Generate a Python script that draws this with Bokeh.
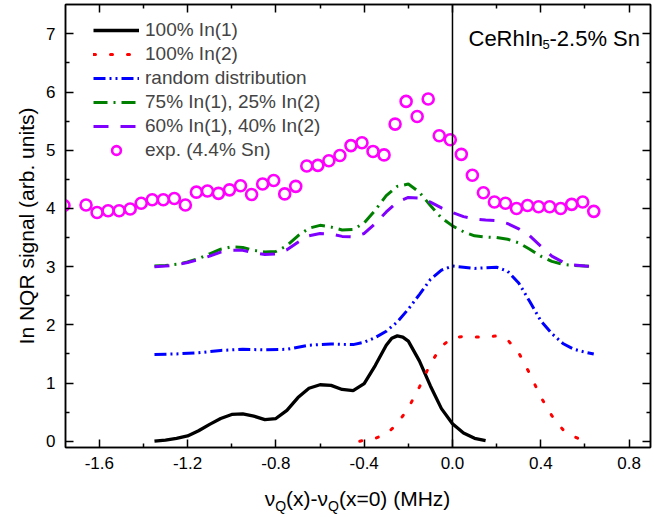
from bokeh.plotting import figure
from bokeh.layouts import column
from bokeh.models import (Range1d, FixedTicker, PrintfTickFormatter, LinearAxis, Span,
                          Label, Legend, LegendItem, Div)
from bokeh.embed import file_html
from bokeh.resources import INLINE

FONT = "Liberation Sans"

# ---- data ----
x_in1 = [-1.35, -1.30, -1.25, -1.20, -1.15, -1.10, -1.05, -1.00, -0.95, -0.90, -0.85,
         -0.80, -0.75, -0.70, -0.65, -0.60, -0.55, -0.50, -0.45, -0.40, -0.35, -0.30,
         -0.275, -0.25, -0.225, -0.20, -0.15, -0.10, -0.05, 0.00, 0.05, 0.10, 0.15]
y_in1 = [0.00, 0.02, 0.05, 0.09, 0.18, 0.29, 0.39, 0.46, 0.47, 0.43, 0.37,
         0.39, 0.53, 0.75, 0.91, 0.97, 0.96, 0.89, 0.87, 0.99, 1.30, 1.65,
         1.77, 1.81, 1.79, 1.72, 1.38, 0.95, 0.56, 0.30, 0.14, 0.05, 0.01]

x_in2 = [-0.42, -0.35, -0.30, -0.25, -0.20, -0.15, -0.10, -0.05, 0.00, 0.05, 0.10,
         0.15, 0.20, 0.25, 0.30, 0.35, 0.40, 0.45, 0.50, 0.55, 0.60]
y_in2 = [0.00, 0.05, 0.12, 0.30, 0.57, 0.93, 1.33, 1.63, 1.78, 1.80, 1.79,
         1.79, 1.81, 1.74, 1.52, 1.16, 0.76, 0.44, 0.20, 0.08, 0.00]

x_rand = [-1.35, -1.25, -1.15, -1.05, -0.95, -0.85, -0.75, -0.65, -0.55, -0.45, -0.40,
          -0.35, -0.30, -0.25, -0.20, -0.15, -0.10, -0.05, 0.00, 0.05, 0.10, 0.15,
          0.20, 0.25, 0.30, 0.35, 0.40, 0.45, 0.50, 0.55, 0.60, 0.64]
y_rand = [1.49, 1.50, 1.52, 1.56, 1.58, 1.57, 1.58, 1.65, 1.67, 1.66, 1.70,
          1.78, 1.89, 2.05, 2.27, 2.52, 2.78, 2.94, 3.01, 2.99, 2.97, 2.98,
          2.99, 2.92, 2.72, 2.40, 2.07, 1.85, 1.68, 1.58, 1.53, 1.50]

x_mix = [-1.35, -1.30, -1.25, -1.20, -1.15, -1.10, -1.05, -1.00, -0.95, -0.90, -0.85,
         -0.80, -0.75, -0.70, -0.65, -0.60, -0.55, -0.50, -0.45, -0.40, -0.35, -0.30,
         -0.25, -0.20, -0.15, -0.10, -0.05, 0.00, 0.05, 0.10, 0.15, 0.20, 0.25,
         0.30, 0.35, 0.40, 0.45, 0.50, 0.55, 0.60, 0.64]
y_75_25 = [3.01, 3.02, 3.04, 3.08, 3.14, 3.22, 3.30, 3.34, 3.33, 3.28, 3.25,
           3.26, 3.36, 3.53, 3.66, 3.71, 3.68, 3.63, 3.64, 3.75, 3.97, 4.22,
           4.38, 4.42, 4.28, 4.05, 3.84, 3.70, 3.60, 3.53, 3.51, 3.50, 3.47,
           3.41, 3.30, 3.18, 3.09, 3.04, 3.02, 3.01, 3.00]
y_60_40 = [3.00, 3.01, 3.03, 3.07, 3.12, 3.18, 3.25, 3.28, 3.28, 3.24, 3.21,
           3.22, 3.29, 3.42, 3.53, 3.57, 3.56, 3.52, 3.51, 3.57, 3.74, 3.94,
           4.11, 4.19, 4.18, 4.11, 4.01, 3.93, 3.86, 3.82, 3.80, 3.79, 3.74,
           3.65, 3.53, 3.35, 3.18, 3.08, 3.03, 3.01, 3.00]

x_exp = [-1.76, -1.66, -1.61, -1.56, -1.51, -1.46, -1.41, -1.36, -1.31, -1.26, -1.21,
         -1.16, -1.11, -1.06, -1.01, -0.96, -0.91, -0.86, -0.81, -0.76, -0.71, -0.66,
         -0.61, -0.56, -0.51, -0.46, -0.41, -0.36, -0.31, -0.26, -0.21, -0.16, -0.11,
         -0.06, -0.01, 0.04, 0.09, 0.14, 0.19, 0.24, 0.29, 0.34, 0.39, 0.44, 0.49,
         0.54, 0.59, 0.64]
y_exp = [4.05, 4.06, 3.93, 3.96, 3.96, 3.99, 4.09, 4.15, 4.15, 4.17, 4.06,
         4.28, 4.30, 4.26, 4.32, 4.39, 4.24, 4.42, 4.48, 4.25, 4.38, 4.73,
         4.74, 4.82, 4.91, 5.08, 5.13, 4.98, 4.92, 5.45, 5.84, 5.58, 5.88,
         5.25, 5.18, 4.93, 4.57, 4.27, 4.11, 4.09, 4.00, 4.05, 4.03, 4.03, 4.00,
         4.07, 4.11, 3.95]

x_major = [-1.6, -1.2, -0.8, -0.4, 0.0, 0.4, 0.8]
x_minor = [-1.4, -1.0, -0.6, -0.2, 0.2, 0.6]
y_major = [0, 1, 2, 3, 4, 5, 6, 7]
y_minor = [0.5, 1.5, 2.5, 3.5, 4.5, 5.5, 6.5]

labels = ["100% In(1)", "100% In(2)", "random distribution",
          "75% In(1), 25% In(2)", "60% In(1), 40% In(2)", "exp. (4.4% Sn)"]

# ---- figure ----
p = figure(width=661, height=480, output_backend="svg", toolbar_location=None,
           x_range=Range1d(-1.753, 0.897), y_range=Range1d(-0.108, 7.505),
           min_border_left=65, min_border_right=11, min_border_top=4, min_border_bottom=33)
p.grid.visible = False
p.outline_line_color = "black"
p.outline_line_width = 1.5
p.background_fill_color = "white"
p.border_fill_color = "white"

xt = FixedTicker(ticks=x_major, minor_ticks=x_minor)
yt = FixedTicker(ticks=y_major, minor_ticks=y_minor)


def style(ax, ticker, show_labels):
    ax.ticker = ticker
    ax.major_tick_in = 8
    ax.major_tick_out = 0
    ax.minor_tick_in = 4
    ax.minor_tick_out = 0
    ax.axis_line_color = "black"
    ax.axis_line_width = 1.5
    ax.major_tick_line_color = "black"
    ax.major_tick_line_width = 1.5
    ax.minor_tick_line_color = "black"
    ax.minor_tick_line_width = 1.5
    ax.major_label_text_font = FONT
    if show_labels:
        ax.major_label_text_font_size = "17px"
        ax.major_label_text_color = "black"
    else:
        ax.major_label_text_font_size = "1px"
        ax.major_label_text_color = None
        ax.major_label_standoff = 0


xa = p.xaxis[0]
style(xa, xt, True)
xa.formatter = PrintfTickFormatter(format="%.1f")
xa.major_label_standoff = 9

ya = p.yaxis[0]
style(ya, yt, True)
ya.major_label_standoff = 10
ya.axis_label = "In NQR signal (arb. units)"
ya.axis_label_text_font = FONT
ya.axis_label_text_font_size = "21px"
ya.axis_label_text_font_style = "normal"
ya.axis_label_text_color = "black"
ya.axis_label_standoff = 5

top = LinearAxis()
style(top, xt, False)
p.add_layout(top, "above")
right = LinearAxis()
style(right, yt, False)
p.add_layout(right, "right")

p.add_layout(Span(location=0, dimension="height", line_color="black", line_width=1.5))

r1 = p.line(x_in1, y_in1, line_color="black", line_width=3.3)
r2 = p.line(x_in2, y_in2, line_color="#FF0000", line_width=3, line_dash="2 15", line_cap="round")
r3 = p.line(x_rand, y_rand, line_color="#0000FF", line_width=3, line_dash="12 4 2 4 2 4")
r4 = p.line(x_mix, y_75_25, line_color="#008000", line_width=3, line_dash="14 6 2 6")
r5 = p.line(x_mix, y_60_40, line_color="#8000FF", line_width=3, line_dash="15 12")
r6 = p.scatter(x_exp, y_exp, marker="circle", size=11, fill_color=None,
               line_color="#FF00FF", line_width=2.6)

legend = Legend(items=[LegendItem(label=l, renderers=[r]) for l, r in
                       zip(labels, [r1, r2, r3, r4, r5, r6])],
                location=(28, 285), padding=0, margin=0, spacing=0,
                border_line_color=None, background_fill_alpha=0,
                label_text_font=FONT, label_text_font_size="19px",
                glyph_width=46, glyph_height=22, label_height=24, label_standoff=6)
p.add_layout(legend)


def lab(x, y, text, size):
    p.add_layout(Label(x=x, y=y, x_units="screen", y_units="screen", text=text,
                       text_font=FONT, text_font_size=size, text_color="black",
                       text_baseline="alphabetic", text_align="left"))


# annotation CeRhIn5-2.5% Sn
lab(403, 409, "CeRhIn", "22px")
lab(477, 403, "5", "13px")
lab(484, 409, "-2.5% Sn", "22px")

# x axis title (HTML, for the subscripts)
title = Div(text=("<div style=\"margin-left:65px;width:585px;text-align:center;"
                  "font-family:'Liberation Sans';font-size:21px;line-height:24px;"
                  "padding-top:7px;color:black;white-space:nowrap\">"
                  "\u03bd<sub style=\"font-size:14px;line-height:0\">Q</sub>(x)-"
                  "\u03bd<sub style=\"font-size:14px;line-height:0\">Q</sub>"
                  "(x=0) (MHz)</div>"),
            width=661, height=37, margin=0)

layout = column(p, title, spacing=0)
open("out.html", "w").write(file_html(layout, INLINE))
